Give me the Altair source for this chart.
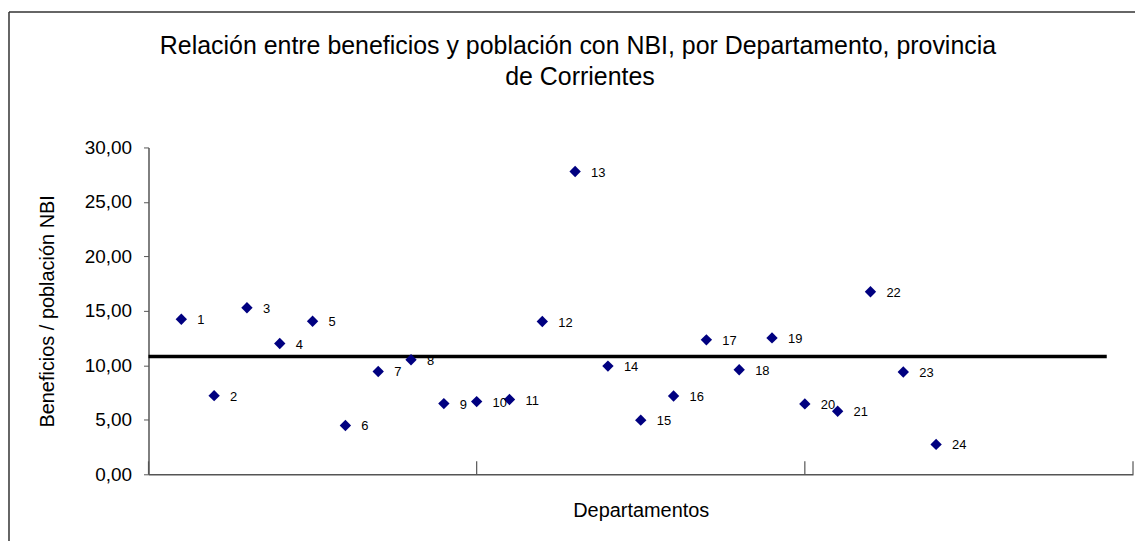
import altair as alt
import pandas as pd

# Data
departamentos = list(range(1, 25))
valores = [14.23, 7.22, 15.29, 12.00, 14.05, 4.48, 9.44, 10.51, 6.49, 6.67,
           6.86, 14.02, 27.79, 9.93, 4.97, 7.19, 12.34, 9.60, 12.52, 6.46,
           5.79, 16.76, 9.39, 2.74]
etiquetas = [str(d) for d in departamentos]
linea_ref = 10.81
linea_x_inicio = 0
linea_x_fin = 29.2
x_ticks = [0, 10, 20, 30]
titulo_1 = "Relación entre beneficios y población con NBI, por Departamento, provincia"
titulo_2 = "de Corrientes"

FONT = "Liberation Sans"
W, H = 988, 328

df = pd.DataFrame({"dep": departamentos, "val": valores, "lab": etiquetas})
df_line = pd.DataFrame({"x": [linea_x_inicio], "x2": [linea_x_fin], "y": [linea_ref]})
df_ticks = pd.DataFrame({"x": x_ticks})
df_one = pd.DataFrame({"a": [0]})

xscale = alt.Scale(domain=[0, 30], nice=False, zero=False)
yscale = alt.Scale(domain=[0, 30], nice=False)

base = alt.Chart(df)

points = base.mark_point(shape="diamond", filled=True, size=130, color="#000080", opacity=1).encode(
    x=alt.X("dep:Q", scale=xscale,
            axis=alt.Axis(title="Departamentos", labels=False, ticks=False, grid=False,
                          domainColor="#555", domainWidth=1.5,
                          titleFont=FONT, titleFontSize=20, titleFontWeight="normal",
                          titleColor="#000", titlePadding=26)),
    y=alt.Y("val:Q", scale=yscale,
            axis=alt.Axis(title="Beneficios / población NBI", values=[0, 5, 10, 15, 20, 25, 30],
                          labelExpr="replace(format(datum.value, '.2f'), '.', ',')",
                          grid=False, tickSize=5, tickColor="#555", domainColor="#555",
                          domainWidth=1.5, labelFont=FONT, labelFontSize=19, labelColor="#000",
                          labelPadding=12, titleFont=FONT, titleFontSize=20,
                          titleFontWeight="normal", titleColor="#000", titlePadding=27)),
)

labels = base.mark_text(align="left", baseline="middle", dx=16, dy=1, font=FONT,
                        fontSize=13, color="#000").encode(
    x=alt.X("dep:Q", scale=xscale),
    y=alt.Y("val:Q", scale=yscale),
    text="lab:N",
)

hline = alt.Chart(df_line).mark_rule(color="#000", strokeWidth=3.5).encode(
    x=alt.X("x:Q", scale=xscale),
    x2="x2:Q",
    y=alt.Y("y:Q", scale=yscale),
)

xticks = alt.Chart(df_ticks).mark_rule(color="#555", strokeWidth=1.2).encode(
    x=alt.X("x:Q", scale=xscale),
    y=alt.value(H),
    y2=alt.value(H - 13),
)

frame_left = alt.Chart(df_one).mark_rule(color="#333", strokeWidth=1.5).encode(
    x=alt.value(-140), y=alt.value(-136), y2=alt.value(400)
)
frame_top = alt.Chart(df_one).mark_rule(color="#333", strokeWidth=1.5).encode(
    x=alt.value(-140), x2=alt.value(1100), y=alt.value(-136)
)

title1 = alt.Chart(pd.DataFrame({"t": [titulo_1]})).mark_text(
    font=FONT, fontSize=25, color="#000", align="center", baseline="alphabetic"
).encode(text="t:N", x=alt.value(431), y=alt.value(-94))
title2 = alt.Chart(pd.DataFrame({"t": [titulo_2]})).mark_text(
    font=FONT, fontSize=25, color="#000", align="center", baseline="alphabetic"
).encode(text="t:N", x=alt.value(433), y=alt.value(-63))

chart = alt.layer(frame_left, frame_top, title1, title2, xticks, hline, points, labels).properties(
    width=W,
    height=H,
    padding={"left": 141, "top": 139, "right": 2, "bottom": 66},
    autosize=alt.AutoSizeParams(type="none"),
).configure_view(stroke=None)

chart.save("out.html", embed_options={"renderer": "svg", "actions": False})
